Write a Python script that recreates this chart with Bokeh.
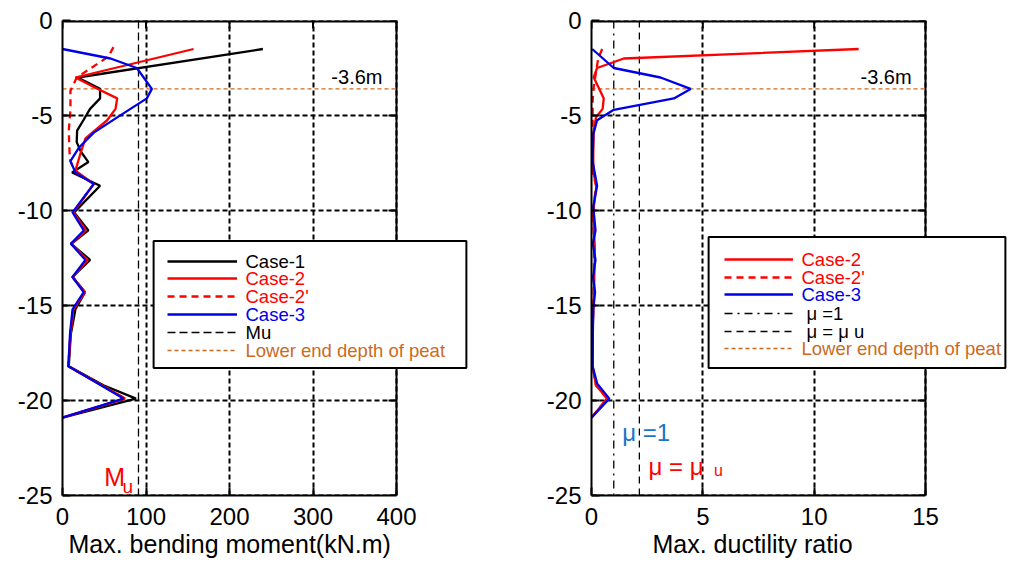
import math
from bokeh.plotting import figure
from bokeh.models import Legend, LegendItem, Label, FixedTicker, Range1d, Title
from bokeh.layouts import row
from bokeh.embed import file_html
from bokeh.resources import INLINE

FONT = "Liberation Sans"
RED = "#FF0000"
BLUE = "#0000E6"
ORANGE = "#CC6A1E"

# ---------------- data: left panel (max bending moment, kN.m) ----------------
m_x_ticks = [0, 100, 200, 300, 400]
depth_ticks = [0, -5, -10, -15, -20, -25]
MU = 91            # Mu (kN.m)
PEAT_DEPTH = -3.6  # lower end depth of peat (m)

c1_depth = [-1.5, -3.0, -3.6, -4.1, -4.65, -5.25, -5.8, -6.4, -6.9, -7.45, -8.0, -8.7,
            -10.1, -11.05, -11.75, -12.6, -13.5, -14.3, -15.2, -16.5, -18.2, -19.2, -19.9, -20.9]
c1_moment = [240, 18, 45, 45, 33, 25, 17.5, 17, 22, 31, 11.5, 45,
             14, 31, 10.5, 33, 12, 27, 15.5, 10, 7.5, 49, 88, 0]

c2_depth = [-1.5, -3.0, -3.5, -4.1, -4.65, -5.25, -6.2, -7.0, -7.9, -8.6,
            -10.1, -11.05, -11.75, -12.6, -13.5, -14.3, -15.2, -16.5, -18.2, -19.2, -19.9, -20.9]
c2_moment = [157, 15.5, 37.5, 65.5, 63.5, 53.5, 27.5, 21.5, 15.5, 37.5,
             13, 28, 10.5, 30, 12, 27, 13, 9.5, 7, 47, 75, 0]

c2p_depth = [-1.4, -1.9, -3.0, -3.7, -4.7, -5.8, -7.0, -7.4, -8.0, -8.6,
             -10.1, -11.05, -11.75, -12.6, -13.5, -14.3, -15.2, -16.5, -18.2, -19.2, -19.9, -20.9]
c2p_moment = [61, 55, 17, 9.5, 9.5, 7.5, 8.5, 9.5, 15.5, 37.5,
              13, 28, 10.5, 30, 12, 27, 13, 9.5, 7, 47, 75, 0]

c3_depth = [-1.5, -2.0, -2.5, -3.6, -4.1, -5.1, -5.9, -6.7, -7.4, -8.0, -8.6,
            -10.1, -11.05, -11.75, -12.6, -13.5, -14.3, -15.2, -16.5, -18.2, -19.2, -19.9, -20.9]
c3_moment = [0, 57.5, 89, 107, 101, 65.5, 37.5, 19.5, 9.5, 15.5, 37.5,
             12, 25.5, 10, 27.5, 12, 25.5, 12, 9, 7, 46, 73, 0]

# ---------------- data: right panel (max ductility ratio) ----------------
d_x_ticks = [0, 5, 10, 15]
MU1 = 1.0
MUU = 2.15

r2_depth = [-1.5, -2.0, -2.5, -3.0, -3.6, -4.1, -4.65, -5.1, -5.8, -7.0, -8.0, -8.7,
            -10.1, -12.0, -14.0, -16.0, -18.2, -19.2, -19.9, -20.9]
r2_mu = [12.0, 1.45, 0.25, 0.1, 0.35, 0.55, 0.5, 0.2, 0.1, 0.08, 0.08, 0.22,
         0.07, 0.15, 0.12, 0.06, 0.05, 0.2, 0.7, 0]

r2p_depth = [-1.5, -2.0, -3.5, -4.2, -6.0, -8.0, -8.7, -10.1, -12.0, -14.0, -16.0,
             -18.2, -19.2, -19.9, -20.9]
r2p_mu = [0.48, 0.3, 0.1, 0.05, 0.05, 0.06, 0.2, 0.07, 0.12, 0.1, 0.06,
          0.05, 0.2, 0.7, 0]

r3_depth = [-1.5, -2.5, -3.0, -3.6, -4.1, -4.7, -5.25, -6.0, -7.4, -8.7, -9.8,
            -11.05, -11.75, -12.6, -13.5, -14.3, -15.2, -16.5, -18.2, -19.1, -19.9, -20.9]
r3_mu = [0.03, 1.0, 3.1, 4.45, 3.7, 1.0, 0.25, 0.08, 0.05, 0.25, 0.08,
         0.18, 0.06, 0.18, 0.07, 0.16, 0.08, 0.06, 0.05, 0.25, 0.8, 0]

# ---------------- layout constants (page px) ----------------
FRAME_TOP = 20
FRAME_BOTTOM = 495
FRAME_H = FRAME_BOTTOM - FRAME_TOP
BOX_W = 334  # width of the drawn axes box


def base_fig(xticks, xlabel, xlabel_offset, mleft, frame_w, mright):
    x0, x1 = xticks[0], xticks[-1]
    xmax = x0 + (x1 - x0) * frame_w / BOX_W   # frame extends past the box to host the legend
    y0, y1 = depth_ticks[0], depth_ticks[-1]
    p = figure(frame_width=frame_w, frame_height=FRAME_H,
               x_range=Range1d(x0, xmax), y_range=Range1d(y1, y0),
               output_backend="svg", toolbar_location=None,
               min_border_left=mleft, min_border_right=mright,
               min_border_top=FRAME_TOP, min_border_bottom=68,
               background_fill_color="white", border_fill_color="white")
    p.outline_line_color = None
    p.xaxis.ticker = FixedTicker(ticks=xticks)
    p.yaxis.ticker = FixedTicker(ticks=depth_ticks)
    p.xaxis.bounds = (x0, x1)
    p.xaxis.major_label_overrides = {t: str(t) for t in xticks}
    p.yaxis.major_label_overrides = {t: str(t) for t in depth_ticks}
    for ax in (p.xaxis[0], p.yaxis[0]):
        ax.axis_line_width = 2
        ax.major_tick_line_width = 2
        ax.major_tick_in = 8
        ax.major_tick_out = 0
        ax.minor_tick_line_color = None
        ax.major_label_text_font = FONT
        ax.major_label_text_font_size = "24px"
        ax.major_label_text_color = "black"
    p.xaxis.major_label_standoff = 12
    p.yaxis.major_label_standoff = 10
    # x-axis title, placed under the axes box
    p.add_layout(Title(text=xlabel, align="left", offset=xlabel_offset, standoff=0,
                       text_font=FONT, text_font_size="25px", text_font_style="normal",
                       text_color="black"), "below")
    # grid (vertical from the axis grid, horizontal as segments limited to the box)
    p.ygrid.visible = False
    g = p.xgrid[0]
    g.ticker = FixedTicker(ticks=xticks)
    g.grid_line_color = "black"
    g.grid_line_dash = "5 3"
    g.grid_line_width = 2
    g.grid_line_alpha = 1
    n = len(depth_ticks)
    p.segment(x0=[x0] * n, x1=[x1] * n, y0=depth_ticks, y1=depth_ticks,
              line_color="black", line_dash="5 3", line_width=2, level="underlay")
    # top and right edges of the box
    p.line(x=[x0, x1], y=[y0, y0], line_color="black", line_width=4)
    p.line(x=[x1, x1], y=[y0, y1], line_color="black", line_width=2)
    # inward ticks on the top and right edges
    m = len(xticks)
    p.ray(x=xticks, y=[y0] * m, length=8, length_units="screen",
          angle=-math.pi / 2, line_color="black", line_width=2)
    p.ray(x=[x1] * n, y=depth_ticks, length=8, length_units="screen",
          angle=math.pi, line_color="black", line_width=2)
    return p


def ylabel(p, xoff):
    p.add_layout(Label(x=xoff, y=FRAME_H / 2, x_units="screen", y_units="screen",
                       text="GL(m)", angle=math.pi / 2, text_align="center",
                       text_baseline="middle", text_font=FONT, text_font_size="25px",
                       text_color="black"))


def add_legend(p, entries, frame_left, box, glyph_x, gw, text_x, centers):
    left, top, right, bottom = box
    W = right - left
    H = bottom - top
    pw = int(round((W - 3) / 2))
    ph = int(round((H - 11) / 2))
    p.add_layout(Label(x=(left + right) / 2 - frame_left, y=FRAME_BOTTOM - (top + bottom) / 2,
                       x_units="screen", y_units="screen", text="\u00a0",
                       text_font=FONT, text_font_size="10px",
                       text_align="center", text_baseline="middle",
                       padding=(pw, pw, ph, ph),
                       background_fill_color="white", background_fill_alpha=1,
                       border_line_color="black", border_line_width=2))
    for (label, rend, color, dx), c in zip(entries, centers):
        lg = Legend(items=[LegendItem(label=" ", renderers=[rend])],
                    location=(glyph_x - frame_left, FRAME_BOTTOM - (c + 11)),
                    padding=0, margin=0, spacing=0,
                    glyph_width=gw, glyph_height=22, label_height=22, label_width=0,
                    label_standoff=0, label_text_font_size="10px",
                    border_line_alpha=0, background_fill_alpha=0)
        p.add_layout(lg, "center")
        p.add_layout(Label(x=text_x + dx - frame_left, y=FRAME_BOTTOM - c,
                           x_units="screen", y_units="screen", text=label,
                           text_font=FONT, text_font_size="18.5px",
                           text_baseline="middle", text_color=color))


# ---------------- left figure ----------------
L_LEFT = 62
p1 = base_fig(m_x_ticks, "Max. bending moment(kN.m)", 6, 62, 408, 30)
ylabel(p1, 13 - L_LEFT)

r_peat1 = p1.line(x=[m_x_ticks[0], m_x_ticks[-1]], y=[PEAT_DEPTH, PEAT_DEPTH],
                  line_color=ORANGE, line_dash="4 3", line_width=1.3)
r_mu = p1.line(x=[MU, MU], y=[depth_ticks[0], depth_ticks[-1]],
               line_color="black", line_dash="8 4", line_width=1.3)
r_c1 = p1.line(x=c1_moment, y=c1_depth, line_color="black", line_width=2.3)
r_c2p = p1.line(x=c2p_moment, y=c2p_depth, line_color=RED, line_width=2.3, line_dash="7 5")
r_c2 = p1.line(x=c2_moment, y=c2_depth, line_color=RED, line_width=2.3)
r_c3 = p1.line(x=c3_moment, y=c3_depth, line_color=BLUE, line_width=2.3)

p1.add_layout(Label(x=322, y=-2.95, text="-3.6m", text_font=FONT, text_font_size="20px",
                    text_baseline="middle", text_color="black"))
p1.add_layout(Label(x=50, y=-24.05, text="M", text_font=FONT, text_font_size="25px",
                    text_baseline="alphabetic", text_color=RED))
p1.add_layout(Label(x=72, y=-24.5, text="u", text_font=FONT, text_font_size="19px",
                    text_baseline="alphabetic", text_color=RED))

add_legend(p1, [("Case-1", r_c1, "black", 0),
                ("Case-2", r_c2, RED, 0),
                ("Case-2'", r_c2p, RED, 0),
                ("Case-3", r_c3, BLUE, 0),
                ("Mu", r_mu, "black", 0),
                ("Lower end depth of peat", r_peat1, ORANGE, 0)],
           L_LEFT, (153, 240, 466, 368), 167, 70, 245,
           [261, 278, 296, 314, 332, 350])

# ---------------- right figure ----------------
R_LEFT = 591
p2 = base_fig(d_x_ticks, "Max. ductility ratio", 61, 91, 416, 0)
ylabel(p2, 545 - R_LEFT)

r_peat2 = p2.line(x=[d_x_ticks[0], d_x_ticks[-1]], y=[PEAT_DEPTH, PEAT_DEPTH],
                  line_color=ORANGE, line_dash="4 3", line_width=1.3)
r_mu1 = p2.line(x=[MU1, MU1], y=[depth_ticks[0], depth_ticks[-1]],
                line_color="black", line_dash="8 5 2 5", line_width=1.3)
r_muu = p2.line(x=[MUU, MUU], y=[depth_ticks[0], depth_ticks[-1]],
                line_color="black", line_dash="7 5", line_width=1.3)
r_r2p = p2.line(x=r2p_mu, y=r2p_depth, line_color=RED, line_width=2.3, line_dash="7 5")
r_r2 = p2.line(x=r2_mu, y=r2_depth, line_color=RED, line_width=2.3)
r_r3 = p2.line(x=r3_mu, y=r3_depth, line_color=BLUE, line_width=2.3)

p2.add_layout(Label(x=12.08, y=-2.95, text="-3.6m", text_font=FONT, text_font_size="20px",
                    text_baseline="middle", text_color="black"))
p2.add_layout(Label(x=1.38, y=-21.7, text="\u03bc =1", text_font=FONT, text_font_size="24px",
                    text_baseline="alphabetic", text_color="#1A75C8"))
p2.add_layout(Label(x=2.56, y=-23.45, text="\u03bc = \u03bc", text_font=FONT,
                    text_font_size="24px", text_baseline="alphabetic", text_color=RED))
p2.add_layout(Label(x=5.5, y=-23.7, text="u", text_font=FONT, text_font_size="16px",
                    text_baseline="alphabetic", text_color=RED))

add_legend(p2, [("Case-2", r_r2, RED, 0),
                ("Case-2'", r_r2p, RED, 0),
                ("Case-3", r_r3, BLUE, 0),
                ("\u03bc =1", r_mu1, "black", 5),
                ("\u03bc = \u03bc u", r_muu, "black", 5),
                ("Lower end depth of peat", r_peat2, ORANGE, 0)],
           R_LEFT, (708, 237, 1005, 367), 724, 69, 801,
           [259, 277, 294, 313, 331, 348])

layout = row(p1, p2, spacing=0)
open("out.html", "w").write(file_html(layout, INLINE))
